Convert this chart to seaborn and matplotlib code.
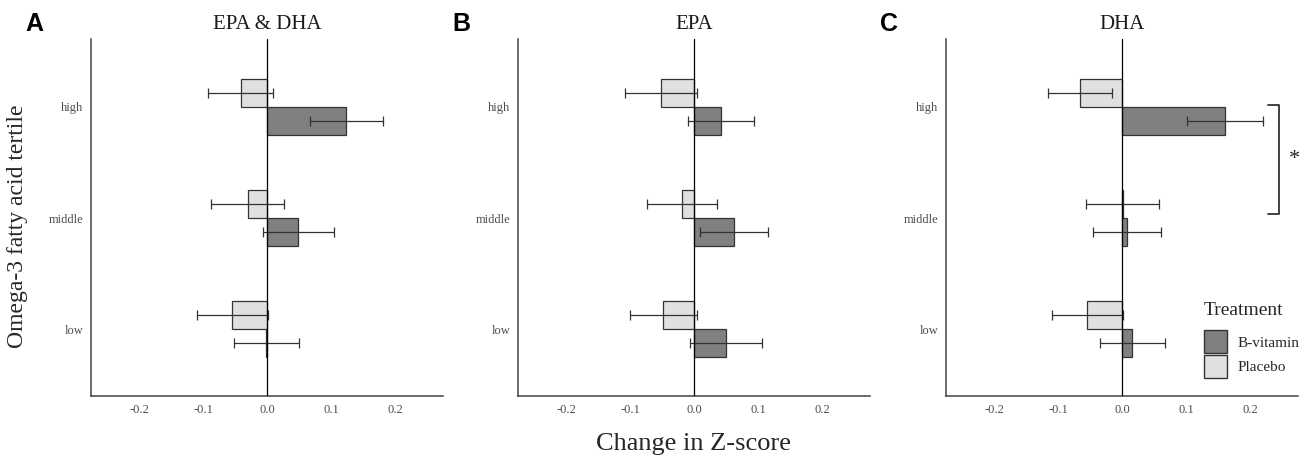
import matplotlib
matplotlib.use("Agg")
import matplotlib.pyplot as plt
import pandas as pd
import seaborn as sns
from matplotlib.patches import Patch

# categories
tertiles = ["high", "middle", "low"]
treatments = ["Placebo", "B-vitamin"]
panels = ["EPA & DHA", "EPA", "DHA"]
letters = ["A", "B", "C"]

# mean change in Z-score (order: high, middle, low)
placebo_epa_dha = [-0.041, -0.030, -0.054]
bvit_epa_dha = [0.124, 0.049, -0.001]
placebo_epa = [-0.052, -0.019, -0.048]
bvit_epa = [0.042, 0.063, 0.050]
placebo_dha = [-0.065, 0.001, -0.054]
bvit_dha = [0.161, 0.008, 0.016]

# standard error half-widths
placebo_epa_dha_err = [0.051, 0.057, 0.055]
bvit_epa_dha_err = [0.057, 0.055, 0.051]
placebo_epa_err = [0.056, 0.055, 0.052]
bvit_epa_err = [0.052, 0.053, 0.056]
placebo_dha_err = [0.050, 0.057, 0.055]
bvit_dha_err = [0.059, 0.053, 0.051]

means = {
    "EPA & DHA": {"Placebo": placebo_epa_dha, "B-vitamin": bvit_epa_dha},
    "EPA": {"Placebo": placebo_epa, "B-vitamin": bvit_epa},
    "DHA": {"Placebo": placebo_dha, "B-vitamin": bvit_dha},
}
errors = {
    "EPA & DHA": {"Placebo": placebo_epa_dha_err, "B-vitamin": bvit_epa_dha_err},
    "EPA": {"Placebo": placebo_epa_err, "B-vitamin": bvit_epa_err},
    "DHA": {"Placebo": placebo_dha_err, "B-vitamin": bvit_dha_err},
}

colors = {"Placebo": "#e0e0e0", "B-vitamin": "#808080"}
dark = "#333333"
serif = ["Liberation Serif", "DejaVu Serif"]

sns.set_style("white")
plt.rcParams["font.family"] = serif

fig = plt.figure(figsize=(13.13, 4.61), dpi=100)
lefts = [91, 518, 946]
axes = []
for i, panel in enumerate(panels):
    ax = fig.add_axes([lefts[i] / 1313, 65 / 461, 352 / 1313, 357 / 461])
    axes.append(ax)
    rows = []
    for t in treatments:
        for k, tert in enumerate(tertiles):
            rows.append({"tertile": tert, "Treatment": t, "change": means[panel][t][k],
                         "se": errors[panel][t][k]})
    df = pd.DataFrame(rows)
    sns.barplot(data=df, x="change", y="tertile", hue="Treatment", order=tertiles,
                hue_order=treatments, palette=colors, width=0.5, errorbar=None,
                edgecolor=dark, linewidth=0.9, legend=False, ax=ax, zorder=2)
    for container, t in zip(ax.containers, treatments):
        sub = df[df["Treatment"] == t].set_index("tertile").loc[tertiles]
        ys = [bar.get_y() + bar.get_height() / 2 for bar in container]
        ax.errorbar(sub["change"], ys, xerr=sub["se"], fmt="none", ecolor=dark,
                    elinewidth=0.9, capsize=3.6, capthick=0.9, zorder=3)
    ax.axvline(0, color="black", lw=0.9, zorder=4)
    ax.set_xlim(-0.275, 0.275)
    ax.set_ylim(2.6, -0.61)
    ax.set_xticks([-0.2, -0.1, 0.0, 0.1, 0.2])
    ax.set_xticklabels(["-0.2", "-0.1", "0.0", "0.1", "0.2"])
    ax.set_xlabel("")
    ax.set_ylabel("")
    for side in ["top", "right"]:
        ax.spines[side].set_visible(False)
    for side in ["left", "bottom"]:
        ax.spines[side].set_color("#444444")
        ax.spines[side].set_linewidth(1.1)
    ax.tick_params(axis="both", direction="out", length=3.5, width=0.9, color="#444444",
                   labelsize=9, labelcolor="#4d4d4d", pad=2)
    ax.set_title(panel, fontsize=15, pad=7, color="#1a1a1a")
    fig.text((lefts[i] - 66) / 1313, 1 - 12 / 461, letters[i], fontsize=18,
             fontweight="bold", family=["Liberation Sans", "DejaVu Sans"], va="top",
             ha="left", color="black")

# significance bracket in panel C
axc = axes[2]
axc.plot([0.228, 0.246, 0.246, 0.228], [-0.02, -0.02, 0.96, 0.96], color=dark,
         lw=1.3, clip_on=False)
axc.text(0.270, 0.47, "*", fontsize=16, ha="center", va="center", clip_on=False)

handles = [Patch(facecolor=colors[t], edgecolor=dark, lw=1.0) for t in ["B-vitamin", "Placebo"]]
leg = fig.legend(handles, ["B-vitamin", "Placebo"], title="Treatment", loc="upper left",
                 bbox_to_anchor=(1204 / 1313, 1 - 302 / 461), frameon=False, fontsize=11,
                 title_fontsize=14, handlelength=1.5, handleheight=1.95, handletextpad=0.7,
                 labelspacing=0.1, borderpad=0, borderaxespad=0, alignment="left")
leg._legend_box.sep = 8

fig.text(0.0137, 1 - 226 / 461, "Omega-3 fatty acid tertile", rotation=90, fontsize=17,
         ha="center", va="center")
fig.text(694 / 1313, 1 - 444 / 461, "Change in Z-score", fontsize=19, ha="center",
         va="center")

fig.savefig("out.png", dpi=100)
